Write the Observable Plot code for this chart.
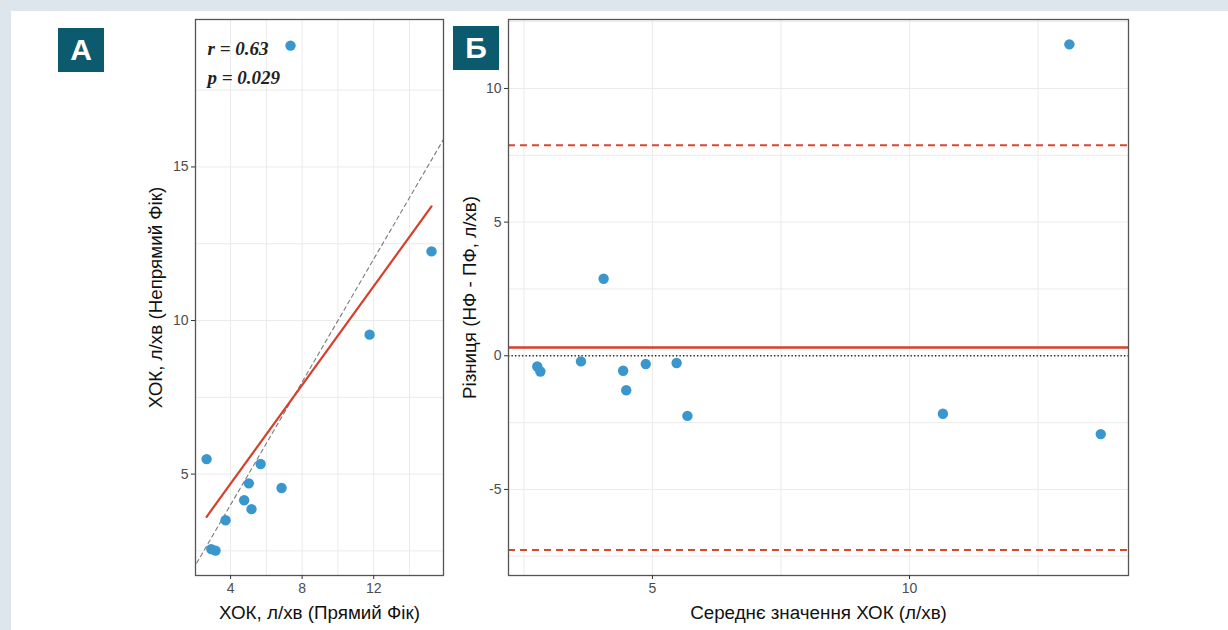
<!DOCTYPE html>
<html>
<head>
<meta charset="utf-8">
<script src="https://cdn.jsdelivr.net/npm/d3@7"></script>
<script src="https://cdn.jsdelivr.net/npm/@observablehq/plot@0.6"></script>
<style>
  html, body { margin: 0; padding: 0; }
  #page { position: relative; width: 1228px; height: 630px; background: #dce6ec; overflow: hidden; font-family: "Liberation Sans", Arial, sans-serif; }
  #card { position: absolute; left: 11px; top: 11px; right: 0; bottom: 0; background: #ffffff; }
  .panel { position: absolute; top: 0; }
  .tag { position: absolute; width: 46px; height: 44px; background: #0b5a6d; color: #fff; font: bold 30px "Liberation Sans", Arial, sans-serif; display: flex; align-items: center; justify-content: center; }
</style>
</head>
<body>
<div id="page">
  <div id="card"></div>
  <div id="panelA" class="panel" style="left:0px"></div>
  <div id="panelB" class="panel" style="left:450px"></div>
  <div class="tag" style="left:58px; top:28px">А</div>
  <div class="tag" style="left:453px; top:26px">Б</div>
</div>
<script>
// ---- Panel А data: cardiac output, direct vs indirect Fick (l/min)
const directFick   = [7.35, 15.23, 11.77, 2.66, 5.68, 5.02, 6.85, 4.76, 5.17, 3.72, 2.92, 3.16];
const indirectFick = [18.95, 12.25, 9.54, 5.49, 5.33, 4.70, 4.55, 4.15, 3.86, 3.50, 2.56, 2.51];
const identityLine = [0, 20];
const annotR = "r = 0.63";
const annotP = "p = 0.029";
const xTicksA = [4, 8, 12];
const xGridA = [4, 6, 8, 10, 12, 14];
const yTicksA = [5, 10, 15];
const yGridA = [2.5, 5, 7.5, 10, 12.5, 15, 17.5];
const xTitleA = "ХОК, л/хв (Прямий Фік)";
const yTitleA = "ХОК, л/хв (Непрямий Фік)";

// ---- Panel Б data: Bland–Altman
const meanCO = [13.11, 13.72, 10.65, 4.05, 5.47, 4.87, 5.68, 4.43, 4.49, 3.61, 2.76, 2.82];
const diffCO = [11.65, -2.93, -2.17, 2.88, -0.27, -0.31, -2.25, -0.56, -1.29, -0.21, -0.40, -0.59];
const bias = [0.31];
const limitsOfAgreement = [7.88, -7.27];
const zeroLine = [0];
const xTicksB = [5, 10];
const xGridB = [2.5, 5, 7.5, 10, 12.5];
const yTicksB = [-5, 0, 5, 10];
const yGridB = [-7.5, -5, -2.5, 0, 2.5, 5, 7.5, 10, 12.5];
const xTitleB = "Середнє значення ХОК (л/хв)";
const yTitleB = "Різниця (НФ - ПФ, л/хв)";

const pointColor = "#3a97cd";
const red = "#d6402b";
const tickColor = "#4d4d4d";
const fontFamily = "'Liberation Sans', Arial, sans-serif";
const titleSize = 18.8;
const fmt = d => String(d);

const dataA = directFick.map((x, i) => ({x, y: indirectFick[i]}));
const dataB = meanCO.map((x, i) => ({x, y: diffCO[i]}));

function commonStyle() {
  return {fontFamily, fontSize: "14px", color: tickColor, background: "transparent", overflow: "visible"};
}
const annotStyle = {frameAnchor: "top-left", textAnchor: "start", lineAnchor: "middle", fontFamily: "'Liberation Serif', 'Times New Roman', serif", fontStyle: "italic", fontWeight: "bold", fontSize: 19, fill: "#222"};

const chartA = Plot.plot({
  width: 450, height: 630,
  marginLeft: 195, marginRight: 7, marginTop: 19, marginBottom: 55,
  style: commonStyle(),
  x: {domain: [2.04, 15.9]},
  y: {domain: [1.7, 19.8]},
  marks: [
    Plot.gridX(xGridA, {stroke: "#ebebeb", strokeOpacity: 1, strokeWidth: 1}),
    Plot.gridY(yGridA, {stroke: "#ebebeb", strokeOpacity: 1, strokeWidth: 1}),
    Plot.line(identityLine, {x: d => d, y: d => d, stroke: "#7a7a7a", strokeWidth: 1.1, strokeDasharray: "4,3.5", clip: true}),
    Plot.linearRegressionY(dataA, {x: "x", y: "y", stroke: red, strokeWidth: 2.2, ci: 0}),
    Plot.dot(dataA, {x: "x", y: "y", r: 5.2, fill: pointColor, stroke: "none"}),
    Plot.text([annotR], {...annotStyle, dx: 12, dy: 29, text: d => d}),
    Plot.text([annotP], {...annotStyle, dx: 12, dy: 58, text: d => d}),
    Plot.frame({stroke: "#555", strokeWidth: 1.3}),
    Plot.axisX(xTicksA, {tickSize: 4, tickPadding: 4, stroke: "#333", fill: tickColor, label: null, tickFormat: fmt}),
    Plot.axisY(yTicksA, {tickSize: 4, tickPadding: 3, stroke: "#333", fill: tickColor, label: null, tickFormat: fmt}),
    Plot.text([xTitleA], {frameAnchor: "bottom", lineAnchor: "middle", textAnchor: "middle", dy: 37, text: d => d, fontSize: titleSize, fill: "#111"}),
    Plot.text([yTitleA], {frameAnchor: "left", lineAnchor: "middle", textAnchor: "middle", dx: -40, rotate: -90, text: d => d, fontSize: titleSize, fill: "#111"})
  ]
});
document.getElementById("panelA").appendChild(chartA);

const chartB = Plot.plot({
  width: 778, height: 630,
  marginLeft: 58, marginRight: 100, marginTop: 19, marginBottom: 55,
  style: commonStyle(),
  x: {domain: [2.2, 14.26]},
  y: {domain: [-8.22, 12.58]},
  marks: [
    Plot.gridX(xGridB, {stroke: "#ebebeb", strokeOpacity: 1, strokeWidth: 1}),
    Plot.gridY(yGridB, {stroke: "#ebebeb", strokeOpacity: 1, strokeWidth: 1}),
    Plot.ruleY(zeroLine, {stroke: "#222", strokeWidth: 1.3, strokeDasharray: "1.3,2.2"}),
    Plot.ruleY(bias, {stroke: red, strokeWidth: 2.6}),
    Plot.ruleY(limitsOfAgreement, {stroke: "#d9472f", strokeWidth: 2, strokeDasharray: "7,5"}),
    Plot.dot(dataB, {x: "x", y: "y", r: 5.2, fill: pointColor, stroke: "none"}),
    Plot.frame({stroke: "#555", strokeWidth: 1.3}),
    Plot.axisX(xTicksB, {tickSize: 4, tickPadding: 4, stroke: "#333", fill: tickColor, label: null, tickFormat: fmt}),
    Plot.axisY(yTicksB, {tickSize: 4, tickPadding: 3, stroke: "#333", fill: tickColor, label: null, tickFormat: fmt}),
    Plot.text([xTitleB], {frameAnchor: "bottom", lineAnchor: "middle", textAnchor: "middle", dy: 37, text: d => d, fontSize: titleSize, fill: "#111"}),
    Plot.text([yTitleB], {frameAnchor: "left", lineAnchor: "middle", textAnchor: "middle", dx: -39, rotate: -90, text: d => d, fontSize: titleSize, fill: "#111"})
  ]
});
document.getElementById("panelB").appendChild(chartB);
</script>
</body>
</html>
